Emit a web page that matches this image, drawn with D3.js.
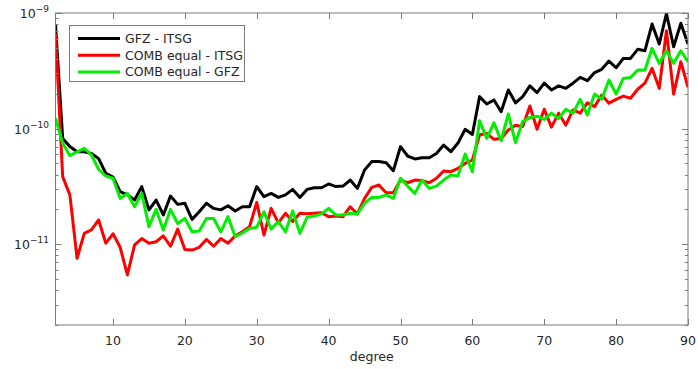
<!DOCTYPE html>
<html>
<head>
<meta charset="utf-8">
<script src="https://cdn.jsdelivr.net/npm/d3@7"></script>
<style>
  html, body { margin: 0; padding: 0; background: #fff; }
  svg { display: block; font-family: "DejaVu Sans", sans-serif; }
</style>
</head>
<body>
<svg id="chart" width="698" height="369"></svg>
<script>
// Spherical-harmonic degrees 2..90
const degrees = d3.range(2, 91);

// Degree variance differences per solution pair
const gfzItsg = [
  7.9e-10, 8.2e-11, 7.0e-11, 6.3e-11, 6.3e-11, 6.1e-11, 5.5e-11, 4.1e-11, 3.8e-11,
  2.85e-11, 2.67e-11, 2.41e-11, 3.15e-11, 1.98e-11, 2.41e-11, 1.79e-11, 2.61e-11, 2.21e-11, 2.26e-11,
  1.64e-11, 1.91e-11, 2.26e-11, 2.04e-11, 1.98e-11, 2.15e-11, 1.94e-11, 2.11e-11, 2.11e-11,
  3.15e-11, 2.58e-11, 2.75e-11, 2.54e-11, 2.67e-11, 2.98e-11, 2.54e-11, 2.98e-11, 3.08e-11, 3.08e-11,
  3.32e-11, 3.15e-11, 3.18e-11, 3.59e-11, 3.04e-11, 4.38e-11, 5.18e-11, 5.2e-11, 5.07e-11, 4.32e-11,
  6.98e-11, 5.79e-11, 5.46e-11, 5.6e-11, 5.6e-11, 6.1e-11, 7.2e-11, 6.31e-11, 7.5e-11, 9.86e-11,
  8.9e-11, 1.89e-10, 1.63e-10, 1.77e-10, 1.4e-10, 2.16e-10, 1.67e-10, 1.89e-10, 2.34e-10, 2.05e-10,
  2.47e-10, 2.16e-10, 2.34e-10, 2.23e-10, 2.47e-10, 2.77e-10, 2.6e-10, 3.05e-10, 3.26e-10, 3.84e-10,
  3.36e-10, 4.05e-10, 4.05e-10, 4.85e-10, 4.71e-10, 8.03e-10, 5.39e-10, 9.9e-10, 5.11e-10, 8.14e-10,
  5.39e-10
];

const combItsg = [
  6.6e-10, 3.84e-11, 2.67e-11, 7.55e-12, 1.24e-11, 1.33e-11, 1.62e-11, 1.02e-11, 1.23e-11,
  9.4e-12, 5.42e-12, 9.85e-12, 1.12e-11, 1.02e-11, 1.05e-11, 1.18e-11, 9.6e-12, 1.35e-11, 9.0e-12,
  8.9e-12, 9.4e-12, 1.1e-11, 9.6e-12, 1.12e-11, 1.02e-11, 1.18e-11, 1.28e-11, 1.42e-11,
  2.3e-11, 1.2e-11, 2.04e-11, 1.53e-11, 1.85e-11, 1.57e-11, 1.85e-11, 1.83e-11, 1.85e-11, 1.87e-11,
  1.73e-11, 1.75e-11, 1.73e-11, 2.11e-11, 1.83e-11, 2.49e-11, 3.1e-11, 3.25e-11, 2.79e-11, 2.79e-11,
  3.59e-11, 3.4e-11, 3.59e-11, 3.55e-11, 3.4e-11, 3.72e-11, 4.3e-11, 4.24e-11, 4.53e-11, 5.0e-11,
  5.35e-11, 8.8e-11, 9.1e-11, 8.07e-11, 8.2e-11, 9.73e-11, 1.07e-10, 1.04e-10, 1.57e-10, 9.86e-11,
  1.47e-10, 1.03e-10, 1.36e-10, 1.07e-10, 1.45e-10, 1.36e-10, 1.67e-10, 1.55e-10, 1.95e-10, 1.66e-10,
  1.79e-10, 1.91e-10, 1.83e-10, 2.19e-10, 2.47e-10, 3.32e-10, 2.23e-10, 7.03e-10, 1.99e-10, 3.79e-10,
  2.28e-10
];

const combGfz = [
  1.23e-10, 7.46e-11, 5.83e-11, 6.3e-11, 6.75e-11, 5.91e-11, 4.45e-11, 3.89e-11, 3.72e-11,
  2.49e-11, 2.75e-11, 2.11e-11, 2.75e-11, 1.42e-11, 2.0e-11, 1.33e-11, 2.0e-11, 1.51e-11, 1.67e-11,
  1.28e-11, 1.3e-11, 1.67e-11, 1.67e-11, 1.28e-11, 1.73e-11, 1.16e-11, 1.25e-11, 1.37e-11,
  1.4e-11, 1.91e-11, 1.35e-11, 1.57e-11, 1.28e-11, 1.94e-11, 1.24e-11, 1.71e-11, 1.75e-11, 1.83e-11,
  2.04e-11, 1.79e-11, 1.79e-11, 1.85e-11, 1.83e-11, 2.26e-11, 2.54e-11, 2.54e-11, 2.67e-11, 2.49e-11,
  3.72e-11, 3.18e-11, 2.75e-11, 3.59e-11, 3.04e-11, 3.18e-11, 3.59e-11, 3.97e-11, 3.9e-11, 6.03e-11,
  4.24e-11, 1.17e-10, 8.24e-11, 1.12e-10, 7.85e-11, 1.34e-10, 7.55e-11, 1.15e-10, 1.25e-10, 1.28e-10,
  1.2e-10, 1.36e-10, 1.22e-10, 1.47e-10, 1.36e-10, 1.79e-10, 1.31e-10, 1.99e-10, 1.79e-10, 2.63e-10,
  1.99e-10, 2.72e-10, 2.77e-10, 3.21e-10, 3.2e-10, 4.95e-10, 3.67e-10, 4.71e-10, 3.67e-10, 4.71e-10,
  3.79e-10
];

const seriesNames = ["GFZ - ITSG", "COMB equal - ITSG", "COMB equal - GFZ"];
const seriesColors = ["#000000", "#ff0000", "#00ee00"];
const seriesValues = [gfzItsg, combItsg, combGfz];

const xTicks = [10, 20, 30, 40, 50, 60, 70, 80, 90];
const yMajorExponents = [-9, -10, -11];
const xLabel = "degree";

// Plot frame
const svg = d3.select("#chart");
const frame = { left: 55.5, right: 688, top: 13, bottom: 325 };
const axisColor = "#262626";
const axisStroke = "#7a7a7a";

const x = d3.scaleLinear().domain([2, 90]).range([frame.left, frame.right]);
const y = d3.scaleLog().domain([2e-12, 1e-9]).range([frame.bottom, frame.top]);

// Clip for the data lines
svg.append("defs").append("clipPath").attr("id", "plotClip")
  .append("rect").attr("x", frame.left).attr("y", frame.top)
  .attr("width", frame.right - frame.left).attr("height", frame.bottom - frame.top);

// Lines
const line = d3.line()
  .x((d, i) => x(degrees[i]))
  .y(d => y(d));

const lines = svg.append("g").attr("clip-path", "url(#plotClip)");
seriesValues.forEach((vals, k) => {
  lines.append("path")
    .datum(vals)
    .attr("d", line)
    .attr("fill", "none")
    .attr("stroke", seriesColors[k])
    .attr("stroke-width", 3)
    .attr("stroke-linejoin", "round");
});

// Axis box
svg.append("rect")
  .attr("x", frame.left).attr("y", frame.top)
  .attr("width", frame.right - frame.left).attr("height", frame.bottom - frame.top)
  .attr("fill", "none").attr("stroke", axisStroke).attr("stroke-width", 1);

// X ticks (inward, bottom and top)
const tg = svg.append("g").attr("stroke", axisStroke).attr("stroke-width", 1);
xTicks.forEach(t => {
  const px = Math.round(x(t)) + 0.5;
  tg.append("line").attr("x1", px).attr("x2", px).attr("y1", frame.bottom).attr("y2", frame.bottom - 6);
  tg.append("line").attr("x1", px).attr("x2", px).attr("y1", frame.top).attr("y2", frame.top + 6);
});

// Y ticks (major + minor, inward, left and right)
y.ticks().forEach(v => {
  const mant = Math.round(v / Math.pow(10, Math.floor(Math.log10(v) + 1e-9)));
  const len = mant === 1 ? 6 : 3;
  const py = Math.round(y(v)) + 0.5;
  tg.append("line").attr("x1", frame.left).attr("x2", frame.left + len).attr("y1", py).attr("y2", py);
  tg.append("line").attr("x1", frame.right).attr("x2", frame.right - len).attr("y1", py).attr("y2", py);
});

// X tick labels
const labels = svg.append("g").attr("fill", axisColor).attr("font-size", 12.5);
xTicks.forEach(t => {
  labels.append("text")
    .attr("x", x(t)).attr("y", 345)
    .attr("text-anchor", "middle")
    .text(t);
});

// X axis title
labels.append("text")
  .attr("x", (frame.left + frame.right) / 2).attr("y", 361)
  .attr("text-anchor", "middle")
  .text(xLabel);

// Y tick labels as powers of ten
yMajorExponents.forEach(e => {
  const t = labels.append("text")
    .attr("x", 49).attr("y", y(Math.pow(10, e)) + 5)
    .attr("text-anchor", "end");
  t.append("tspan").text("10");
  t.append("tspan").attr("dy", -6).attr("font-size", 9).text("\u2212" + Math.abs(e));
});

// Legend
const lg = svg.append("g");
lg.append("rect")
  .attr("x", 69.5).attr("y", 25.5).attr("width", 175).attr("height", 56)
  .attr("fill", "#fff").attr("stroke", axisStroke).attr("stroke-width", 1);
seriesNames.forEach((name, k) => {
  const ly = 38.5 + k * 16.7;
  lg.append("line")
    .attr("x1", 78).attr("x2", 120).attr("y1", ly).attr("y2", ly)
    .attr("stroke", seriesColors[k]).attr("stroke-width", 3);
  lg.append("text")
    .attr("x", 125).attr("y", ly + 4.5)
    .attr("font-size", 12.5).attr("fill", axisColor)
    .text(name);
});
</script>
</body>
</html>
